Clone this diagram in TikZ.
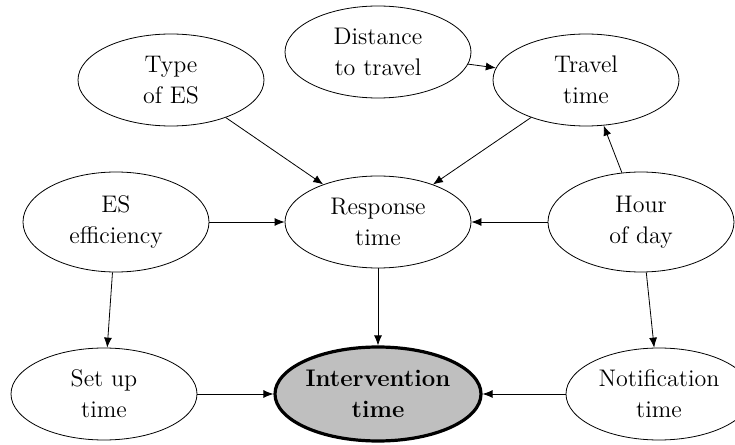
\documentclass[tikz,border=0pt]{standalone}
\usepackage{amssymb}
\usepackage{tikz}
\usetikzlibrary{arrows.meta}
\usetikzlibrary{shapes.geometric}
\usepackage{amsmath}

\begin{document}
\begin{tikzpicture}[x=0.5pt,y=0.5pt]
	\useasboundingbox (0,0) rectangle (735,445);
	\begin{scope}[every node/.style={ellipse,draw,align=center,
	              font=\large\linespread{1.1}\selectfont,
	              inner sep=0pt,minimum width=93pt,minimum height=46pt}]
		\node (1) at (171,365) {Type\\of ES};
		\node (2) at (378,393) {Distance\\to travel};
		\node (3) at (586,365) {Travel\\time};
		\node[minimum height=50pt] (4) at (116,223) {ES\\efficiency};
		\node (5) at (378,223) {Response\\time};
		\node[minimum height=50pt] (6) at (641,223) {Hour\\of day};
		\node (7) at (104,51) {Set up\\time};
		\node[line width=1.6pt,fill=black!25,minimum width=103pt,minimum height=47pt,
		      font=\large\linespread{1.1}\selectfont\bfseries] (8) at (378,51) {Intervention\\time};
		\node (9) at (659,51) {Notification\\time};
	\end{scope}

	\begin{scope}[>={Latex[length=5pt,width=4pt]},
	              every edge/.style={draw=black,->}]
		\path (1) edge (5);
		\path (2) edge (3);
		\path (3) edge (5);
		\path (6) edge (3);
		\path (4) edge (5);
		\path (6) edge (5);
		\path (4) edge (7);
		\path (5) edge (8);
		\path (6) edge (9);
		\path (7) edge (8);
		\path (9) edge (8);
	\end{scope}
\end{tikzpicture}
\end{document}
